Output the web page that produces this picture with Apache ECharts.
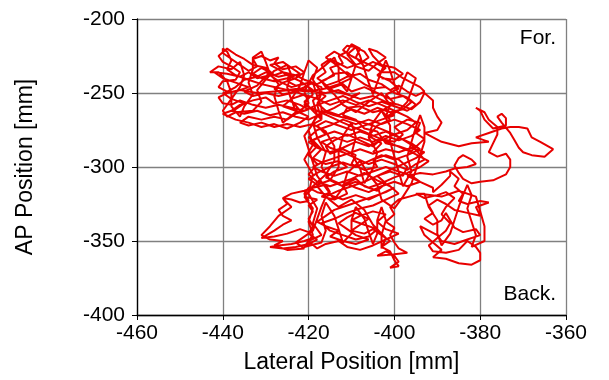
<!DOCTYPE html>
<html>
<head>
<meta charset="utf-8">
<script src="https://cdn.jsdelivr.net/npm/echarts@6/dist/echarts.min.js"></script>
<style>
html,body{margin:0;padding:0;background:#fff;}
#chart{width:609px;height:380px;}
</style>
</head>
<body>
<div id="chart"></div>
<script>
// Center of pressure trace: [lateral, AP] in mm
const seg1 = [[-405,-290],[-403,-284],[-406,-279],[-404,-272],[-401,-268],[-403,-262],[-400,-257],[-402,-251],[-399,-247],[-401,-242],[-404,-238],[-402,-233],[-405,-229],[-407,-232],[-409,-226],[-408,-220],[-410,-217],[-411,-222],[-413,-225],[-412,-230],[-415,-233],[-414,-238],[-417,-242],[-415,-247],[-412,-244],[-410,-249],[-407,-246],[-404,-250],[-401,-254],[-398,-252],[-396,-256],[-398,-261],[-401,-263],[-404,-260],[-407,-264],[-410,-261],[-413,-265],[-416,-262],[-418,-257],[-416,-252],[-419,-248],[-421,-244],[-424,-246],[-427,-242],[-429,-238],[-432,-240],[-434,-236],[-436,-239],[-439,-237],[-442,-236],[-440,-240],[-437,-243],[-434,-246],[-437,-249],[-440,-250],[-438,-254],[-435,-257],[-437,-261],[-440,-264],[-437,-268],[-434,-270],[-431,-273],[-428,-271],[-425,-274],[-422,-270],[-420,-266],[-423,-262],[-426,-259],[-424,-254],[-421,-251],[-418,-254],[-415,-258],[-412,-255],[-409,-258],[-406,-255],[-403,-258],[-400,-262],[-397,-266],[-395,-270],[-397,-275],[-400,-278],[-403,-282],[-406,-286],[-409,-283],[-412,-287],[-415,-290],[-418,-287],[-420,-283],[-417,-279],[-414,-276],[-411,-279],[-408,-276],[-405,-279],[-402,-276],[-399,-280],[-396,-284],[-394,-288],[-397,-292],[-400,-295],[-403,-292],[-406,-296],[-409,-300],[-412,-297],[-415,-300],[-418,-304],[-420,-308],[-418,-312],[-415,-309],[-412,-313],[-409,-310],[-406,-314],[-403,-311],[-400,-307],[-397,-304],[-394,-300],[-392,-296],[-396,-290],[-400,-285],[-404,-280],[-408,-275],[-412,-270],[-415,-266]];
const leftCluster = [[-418,-262],[-421,-258],[-420,-253],[-423,-249],[-426,-251],[-428,-247],[-426,-243],[-423,-240],[-421,-236],[-423,-232],[-426,-234],[-428,-230],[-427,-226],[-429,-228],[-431,-225],[-433,-227],[-432,-232],[-434,-235],[-436,-231],[-438,-227],[-440,-223],[-440,-220],[-439,-222],[-438,-228],[-439,-234],[-437,-238],[-434,-241],[-431,-244],[-428,-246],[-425,-248],[-422,-247],[-419,-249],[-416,-250],[-413,-248],[-410,-252],[-408,-250],[-411,-255],[-414,-260],[-417,-264],[-420,-268],[-423,-266],[-426,-263],[-429,-265],[-432,-262],[-435,-264],[-438,-262],[-436,-258],[-433,-255],[-430,-253],[-428,-257],[-425,-255],[-422,-258],[-420,-261],[-423,-264],[-425,-268],[-428,-266],[-431,-268],[-434,-266],[-436,-270],[-434,-272],[-431,-270],[-428,-273],[-425,-271],[-422,-273],[-419,-271],[-417,-268],[-419,-262],[-421,-256],[-419,-251],[-420,-246],[-422,-242],[-425,-238],[-427,-234],[-429,-231],[-426,-229],[-424,-233],[-422,-237],[-425,-240],[-428,-242],[-431,-240],[-433,-237],[-431,-233],[-429,-236],[-432,-245],[-435,-249],[-433,-252],[-430,-250],[-427,-252],[-424,-250],[-421,-246],[-419,-243]];
const leftVert = [[-418,-252],[-417,-260],[-417,-268],[-418,-258],[-417,-250],[-419,-241],[-418,-233],[-420,-228],[-421,-236],[-422,-245],[-424,-254],[-423,-263],[-426,-270],[-427,-262],[-428,-252],[-427,-244],[-429,-237],[-430,-229],[-431,-222],[-433,-226],[-433,-234],[-434,-243],[-433,-251],[-435,-259],[-436,-266],[-438,-259],[-438,-250],[-439,-242],[-441,-236],[-443,-236],[-441,-232],[-438,-234],[-436,-229],[-435,-238],[-436,-246],[-438,-254],[-440,-262],[-439,-266],[-437,-263],[-433,-262],[-431,-256],[-432,-248],[-430,-241],[-428,-235],[-425,-231],[-424,-238],[-425,-246],[-424,-255],[-422,-262],[-420,-257],[-421,-249],[-419,-238],[-416,-231]];
const upperRightVert = [[-414,-226],[-413,-233],[-413,-242],[-411,-249],[-410,-240],[-409,-231],[-411,-224],[-409,-219],[-408,-225],[-407,-234],[-406,-243],[-405,-251],[-404,-243],[-403,-235],[-402,-228],[-401,-235],[-400,-244],[-399,-251],[-398,-243],[-397,-236],[-395,-240],[-396,-248],[-397,-256],[-399,-262],[-402,-266],[-401,-258],[-403,-250],[-406,-256],[-409,-263],[-412,-258],[-414,-251],[-416,-246],[-417,-242]];
const upperRight = [[-418,-240],[-416,-236],[-417,-231],[-415,-227],[-413,-230],[-411,-233],[-408,-230],[-406,-226],[-407,-222],[-409,-219],[-411,-218],[-412,-221],[-410,-225],[-408,-228],[-405,-232],[-403,-236],[-400,-236],[-398,-240],[-396,-243],[-394,-246],[-393,-249],[-395,-252],[-397,-249],[-399,-245],[-401,-248],[-403,-244],[-406,-241],[-408,-237],[-411,-239],[-413,-242],[-416,-245],[-414,-249],[-411,-251],[-408,-254],[-405,-252],[-402,-256],[-399,-258],[-396,-261],[-394,-256]];
const rightExcursion = [[-393,-250],[-391,-255],[-391,-260],[-390,-266],[-389,-270],[-390,-275],[-393,-277],[-391,-280],[-389,-283],[-385,-286],[-382,-284],[-378,-283],[-381,-280],[-378,-277],[-375,-274],[-373,-273],[-371,-273],[-369,-274],[-368,-280],[-366,-283],[-363,-288],[-365,-293],[-368,-292],[-370,-290],[-371,-287],[-372,-282],[-373,-277],[-375,-270],[-376,-266],[-375,-264],[-374,-267],[-374,-272],[-377,-274],[-379,-268],[-380,-262],[-381,-260],[-379,-263],[-378,-268],[-376,-273],[-376,-278],[-377,-284],[-378,-290],[-376,-293],[-374,-291],[-373,-295],[-373,-300],[-374,-305],[-377,-309],[-380,-310],[-382,-311],[-384,-308],[-385,-304],[-386,-299],[-385,-294],[-384,-292],[-382,-295],[-381,-298],[-383,-300],[-386,-301],[-388,-303],[-391,-305],[-394,-304],[-397,-306]];
const bottomRight = [[-394,-310],[-391,-314],[-391,-317],[-389,-312],[-387,-306],[-387,-303],[-385,-308],[-386,-313],[-384,-318],[-385,-323],[-383,-325],[-380,-323],[-378,-324],[-381,-327],[-380,-333],[-383,-331],[-386,-329],[-388,-325],[-390,-322],[-392,-326],[-391,-331],[-393,-335],[-391,-339],[-389,-336],[-388,-331],[-387,-336],[-386,-341],[-384,-344],[-381,-342],[-380,-346],[-383,-349],[-386,-352],[-389,-350],[-390,-346],[-392,-343],[-394,-340],[-393,-346],[-391,-351],[-389,-356],[-391,-361],[-388,-362],[-385,-365],[-382,-366],[-380,-363],[-380,-358],[-381,-354],[-383,-350],[-385,-356],[-388,-358],[-391,-357],[-392,-353],[-390,-348],[-388,-343],[-387,-338],[-389,-332],[-388,-327],[-386,-321],[-388,-317],[-390,-319],[-393,-321],[-395,-318]];
const bottomRightVert = [[-393,-318],[-392,-327],[-390,-336],[-390,-345],[-389,-353],[-387,-345],[-386,-336],[-385,-327],[-384,-319],[-383,-312],[-382,-319],[-383,-328],[-382,-337],[-381,-346],[-382,-354],[-379,-350],[-379,-340],[-380,-330],[-381,-320],[-385,-316],[-389,-320],[-394,-318]];
const bottomCenter = [[-399,-322],[-401,-327],[-400,-332],[-402,-337],[-400,-341],[-401,-346],[-400,-351],[-399,-355],[-397,-358],[-400,-359],[-404,-360],[-402,-357],[-400,-360],[-399,-364],[-401,-368],[-399,-367],[-400,-363],[-401,-357],[-403,-354],[-401,-350],[-403,-346],[-405,-342],[-407,-345],[-410,-343],[-408,-339],[-406,-335],[-409,-331],[-411,-334],[-413,-338],[-411,-342],[-409,-346],[-406,-349],[-409,-352],[-412,-350],[-415,-347],[-413,-343],[-416,-340],[-418,-337],[-416,-333],[-414,-329],[-411,-326],[-408,-323],[-405,-320],[-402,-317],[-400,-314]];
const lowerLeft = [[-403,-318],[-406,-322],[-409,-319],[-412,-322],[-415,-319],[-418,-317],[-420,-314],[-421,-318],[-420,-323],[-422,-324],[-424,-322],[-426,-321],[-425,-325],[-427,-329],[-426,-333],[-424,-336],[-426,-339],[-428,-343],[-431,-348],[-428,-347],[-425,-345],[-422,-342],[-420,-344],[-419,-348],[-421,-350],[-424,-352],[-427,-353],[-429,-354],[-426,-355],[-423,-354],[-420,-352],[-418,-349],[-420,-345],[-419,-340],[-420,-335],[-419,-330],[-420,-326],[-418,-322]];
const lowerVert = [[-421,-320],[-419,-328],[-420,-337],[-419,-346],[-421,-354],[-417,-351],[-416,-343],[-417,-333],[-416,-324],[-414,-333],[-413,-342],[-412,-351],[-410,-345],[-410,-336],[-409,-327],[-407,-335],[-406,-344],[-405,-352],[-404,-345],[-404,-336],[-403,-327],[-402,-336],[-403,-346],[-403,-355],[-402,-348],[-405,-339],[-407,-329],[-410,-322],[-413,-327],[-416,-320],[-418,-313]];
const lowerLeftExtra = [[-421,-316],[-424,-318],[-426,-321],[-424,-327],[-427,-333],[-429,-340],[-431,-346],[-429,-349],[-426,-350],[-428,-353],[-425,-356],[-421,-355],[-423,-351],[-421,-347],[-419,-343],[-418,-335],[-417,-327]];
const centerDense = [[-416,-320],[-413,-316],[-410,-313],[-407,-310],[-404,-306],[-401,-302],[-398,-298],[-395,-294],[-393,-290],[-396,-287],[-399,-290],[-402,-288],[-405,-291],[-408,-288],[-411,-291],[-414,-294],[-417,-297],[-419,-300],[-417,-303],[-414,-306],[-411,-303],[-408,-306],[-405,-303],[-402,-300],[-399,-303],[-396,-306],[-394,-310],[-397,-313],[-400,-310],[-403,-313],[-406,-317],[-409,-314],[-412,-310],[-415,-313],[-418,-310],[-420,-305],[-418,-298],[-420,-292],[-418,-286],[-420,-280],[-418,-275],[-415,-272],[-412,-268],[-409,-271],[-406,-268],[-403,-271],[-400,-268],[-397,-271],[-394,-275],[-396,-279],[-399,-282],[-402,-279],[-405,-283],[-408,-280],[-411,-283],[-414,-280],[-417,-283],[-415,-287],[-412,-290],[-409,-294],[-406,-298],[-403,-295],[-400,-298],[-397,-302],[-395,-298],[-393,-295],[-396,-285],[-400,-278],[-405,-272],[-410,-268],[-414,-265]];
const centerVert = [[-417,-262],[-419,-270],[-418,-280],[-416,-290],[-417,-300],[-415,-309],[-413,-300],[-413,-290],[-412,-279],[-410,-270],[-409,-280],[-410,-291],[-408,-301],[-407,-311],[-405,-301],[-404,-290],[-406,-280],[-405,-270],[-403,-262],[-401,-272],[-401,-283],[-400,-293],[-399,-303],[-398,-313],[-396,-303],[-397,-293],[-396,-283],[-395,-273],[-394,-265],[-393,-273],[-393,-283],[-394,-292],[-395,-302],[-396,-311],[-398,-320],[-400,-328],[-403,-322],[-404,-312],[-406,-305],[-408,-296],[-411,-304],[-412,-314],[-414,-322],[-416,-314],[-418,-306],[-419,-297],[-420,-288],[-421,-279],[-419,-271],[-416,-276],[-414,-286],[-414,-296],[-416,-305],[-419,-313],[-421,-320]];
const loopsCenter = [[-419,-314],[-416,-312],[-415,-317],[-417,-320],[-414,-322],[-411,-318],[-412,-312],[-409,-308],[-407,-313],[-404,-316],[-402,-311],[-404,-306],[-401,-303],[-398,-306],[-397,-300],[-399,-295],[-402,-292],[-405,-295],[-404,-300],[-407,-302],[-410,-298],[-409,-292],[-412,-288],[-415,-291],[-416,-286],[-414,-282],[-411,-278],[-408,-282],[-405,-286],[-403,-281],[-400,-283],[-398,-278],[-400,-273],[-397,-268],[-394,-270],[-395,-277],[-393,-281],[-396,-289],[-399,-286],[-402,-284],[-404,-276],[-407,-274],[-409,-268],[-412,-265],[-411,-260],[-408,-259],[-405,-263],[-402,-261],[-400,-265],[-403,-268],[-406,-271],[-410,-275],[-413,-272],[-416,-269],[-418,-272],[-416,-278],[-419,-282],[-417,-288],[-419,-294],[-416,-298],[-413,-296],[-411,-300],[-414,-303],[-416,-307],[-413,-311],[-410,-308],[-407,-304],[-404,-309],[-401,-313],[-399,-318],[-402,-322],[-405,-326],[-408,-328],[-411,-331],[-414,-335],[-417,-338],[-415,-343],[-412,-346],[-409,-349],[-406,-347],[-404,-342],[-407,-339],[-410,-336],[-408,-333],[-405,-330],[-402,-332],[-404,-337],[-402,-342],[-399,-345],[-402,-349],[-405,-353],[-408,-356],[-411,-354],[-413,-350],[-416,-352],[-418,-355],[-420,-350],[-417,-346],[-419,-338],[-418,-328],[-420,-318],[-419,-305],[-421,-295],[-419,-285],[-420,-275],[-418,-265],[-419,-255],[-417,-250]];
const loopsLeft = [[-417,-246],[-420,-243],[-423,-245],[-425,-242],[-424,-237],[-427,-239],[-430,-236],[-432,-239],[-435,-241],[-437,-246],[-439,-249],[-441,-246],[-440,-242],[-437,-241],[-436,-236],[-438,-232],[-440,-229],[-441,-225],[-439,-220],[-437,-224],[-435,-227],[-433,-231],[-430,-233],[-428,-238],[-426,-236],[-423,-238],[-421,-241],[-418,-244],[-416,-241],[-414,-237],[-411,-236],[-409,-240],[-407,-244],[-405,-247],[-402,-246],[-400,-250],[-397,-253],[-395,-258],[-397,-262],[-400,-259],[-403,-256],[-406,-259],[-409,-256],[-412,-252],[-415,-255],[-418,-258],[-421,-262],[-424,-260],[-427,-258],[-430,-260],[-433,-258],[-436,-255],[-438,-258],[-440,-257],[-441,-253],[-439,-250],[-436,-248],[-432,-250],[-428,-249],[-424,-248],[-420,-249],[-416,-247],[-413,-244]];
const loopsTop = [[-410,-240],[-412,-235],[-414,-230],[-416,-226],[-414,-222],[-411,-227],[-409,-232],[-406,-235],[-404,-230],[-402,-226],[-404,-222],[-406,-220],[-405,-225],[-403,-231],[-400,-233],[-398,-237],[-400,-241],[-403,-240]];

const xTicks = [-460, -440, -420, -400, -380, -360];
const yTicks = [-400, -350, -300, -250, -200];

const trace = [].concat(seg1, leftCluster, leftVert, upperRightVert, upperRight, rightExcursion,
  bottomRight, bottomRightVert, bottomCenter, lowerLeft, lowerVert, lowerLeftExtra, centerDense,
  centerVert, loopsCenter, loopsLeft, loopsTop);

const FONT = 'Liberation Sans, Arial, Helvetica, sans-serif';
const chart = echarts.init(document.getElementById('chart'), null, {renderer: 'canvas'});
chart.setOption({
  animation: false,
  backgroundColor: '#ffffff',
  grid: {left: 137, right: 43, top: 19, bottom: 65, containLabel: false},
  xAxis: {
    type: 'value', min: xTicks[0], max: xTicks[xTicks.length - 1], interval: 20,
    name: 'Lateral Position [mm]', nameLocation: 'middle', nameGap: 36,
    nameTextStyle: {fontFamily: FONT, fontSize: 23, color: '#000'},
    axisLine: {show: true, onZero: false, lineStyle: {color: '#000', width: 1.3}},
    axisTick: {show: true, inside: false, length: 5, lineStyle: {color: '#000'}},
    axisLabel: {fontFamily: FONT, fontSize: 21, color: '#000', margin: 8},
    splitLine: {show: true, lineStyle: {color: '#808080', width: 1.3}}
  },
  yAxis: {
    type: 'value', min: yTicks[0], max: yTicks[yTicks.length - 1], interval: 50,
    name: 'AP Position [mm]', nameLocation: 'middle', nameGap: 100, nameRotate: 90,
    nameTextStyle: {fontFamily: FONT, fontSize: 23, color: '#000'},
    axisLine: {show: true, onZero: false, lineStyle: {color: '#000', width: 1.3}},
    axisTick: {show: true, inside: false, length: 5, lineStyle: {color: '#000'}},
    axisLabel: {fontFamily: FONT, fontSize: 21, color: '#000', margin: 12},
    splitLine: {show: true, lineStyle: {color: '#808080', width: 1.3}}
  },
  graphic: [
    {type: 'text', right: 53, top: 28, style: {text: 'For.', font: '21px ' + FONT, fill: '#000'}},
    {type: 'text', right: 53, top: 284, style: {text: 'Back.', font: '21px ' + FONT, fill: '#000'}}
  ],
  series: [{
    type: 'line',
    data: trace,
    showSymbol: false,
    symbol: 'none',
    smooth: false,
    clip: true,
    lineStyle: {color: '#e80000', width: 2}
  }]
});
</script>
</body>
</html>
